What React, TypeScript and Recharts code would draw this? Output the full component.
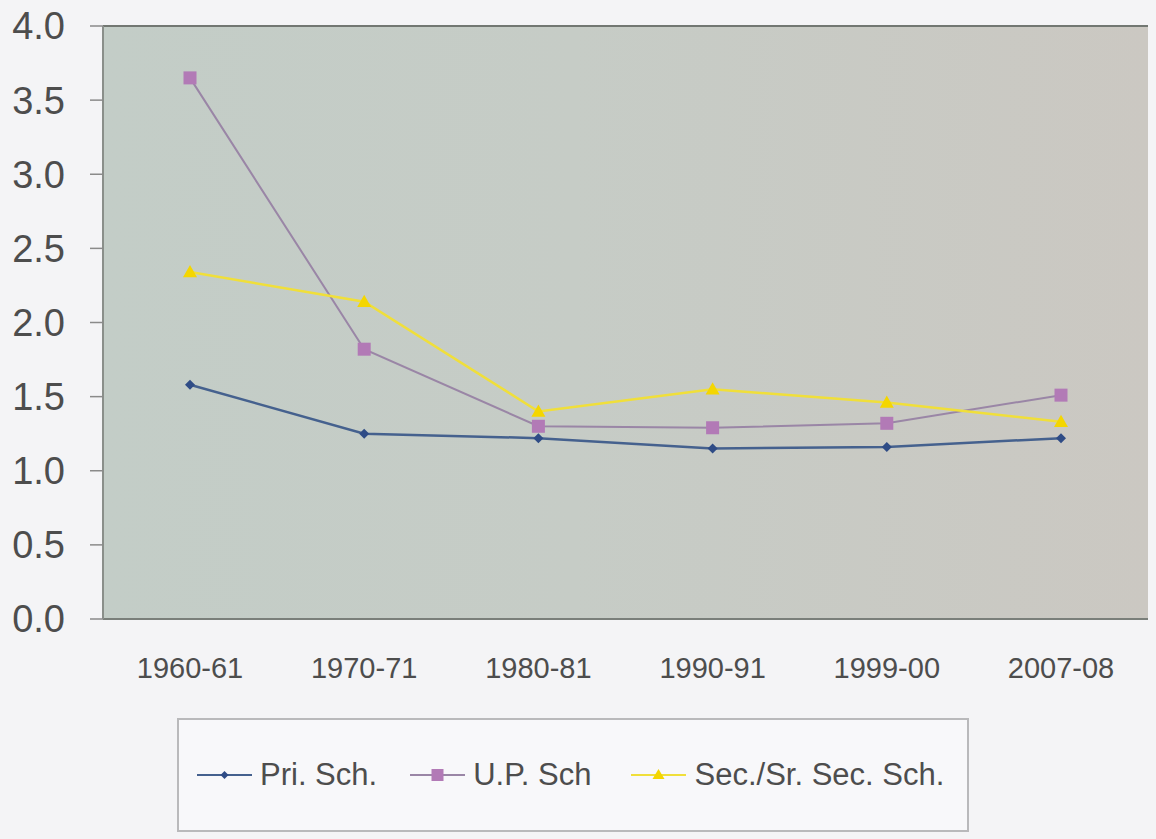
import React from 'react';
import { LineChart, Line, XAxis, YAxis, CartesianGrid, Legend } from 'recharts';

const categories = ['1960-61', '1970-71', '1980-81', '1990-91', '1999-00', '2007-08'];
const priSch = [1.58, 1.25, 1.22, 1.15, 1.16, 1.22];
const upSch = [3.65, 1.82, 1.3, 1.29, 1.32, 1.51];
const secSch = [2.34, 2.14, 1.4, 1.55, 1.46, 1.33];
const yTicks = [0, 0.5, 1.0, 1.5, 2.0, 2.5, 3.0, 3.5, 4.0];
const seriesNames = ['Pri. Sch.', 'U.P. Sch', 'Sec./Sr. Sec. Sch.'];

const data = categories.map((c, i) => ({ year: c, pri: priSch[i], up: upSch[i], sec: secSch[i] }));

const FONT = '"Liberation Sans", Arial, sans-serif';
const PRI_C = '#45618e';
const PRI_M = '#2f4c86';
const UP_C = '#9a86a6';
const UP_M = '#b27ab6';
const SEC_C = '#f0df3a';
const SEC_M = '#f4d600';

const Diamond = (p: any) => {
  const { cx, cy } = p;
  if (cx == null || cy == null) return <g />;
  const s = 5;
  return <path d={`M${cx},${cy - s}L${cx + s},${cy}L${cx},${cy + s}L${cx - s},${cy}Z`} fill={PRI_M} />;
};
const Square = (p: any) => {
  const { cx, cy } = p;
  if (cx == null || cy == null) return <g />;
  const s = 6.5;
  return <rect x={cx - s} y={cy - s} width={2 * s} height={2 * s} fill={UP_M} />;
};
const Triangle = (p: any) => {
  const { cx, cy } = p;
  if (cx == null || cy == null) return <g />;
  const s = 7;
  return <path d={`M${cx},${cy - s}L${cx + s},${cy + s * 0.75}L${cx - s},${cy + s * 0.75}Z`} fill={SEC_M} />;
};

const LegendIcon = ({ kind, color }: { kind: string; color: string }) => (
  <svg width={55} height={20} style={{ display: 'block' }}>
    <line x1={0} y1={10} x2={55} y2={10} stroke={color} strokeWidth={2} />
    {kind === 'pri' && <path d="M27.5,6L31.5,10L27.5,14L23.5,10Z" fill={PRI_M} />}
    {kind === 'up' && <rect x={21.5} y={4} width={12} height={12} fill={UP_M} />}
    {kind === 'sec' && <path d="M27.5,4L33.5,14L21.5,14Z" fill={SEC_M} />}
  </svg>
);

const renderLegend = () => {
  const items = [
    { kind: 'pri', color: PRI_C, name: seriesNames[0], mr: 33 },
    { kind: 'up', color: UP_C, name: seriesNames[1], mr: 40 },
    { kind: 'sec', color: SEC_C, name: seriesNames[2], mr: 0 },
  ];
  return (
    <div
      style={{
        display: 'flex',
        alignItems: 'center',
        height: '100%',
        paddingLeft: 18,
        boxSizing: 'border-box',
      }}
    >
      {items.map((it) => (
        <div key={it.name} style={{ display: 'flex', alignItems: 'center', marginRight: it.mr }}>
          <LegendIcon kind={it.kind} color={it.color} />
          <span style={{ marginLeft: 8, fontFamily: FONT, fontSize: 31, color: '#4d4d4d', whiteSpace: 'nowrap' }}>
            {it.name}
          </span>
        </div>
      ))}
    </div>
  );
};

export default function App() {
  return (
    <div style={{ position: 'absolute', left: 0, top: 0, width: 1156, height: 839, background: '#f4f4f6' }}>
      <LineChart
        width={1156}
        height={839}
        data={data}
        margin={{ top: 26, right: 8, bottom: 160, left: 0 }}
      >
        <defs>
          <linearGradient id="plotBg" x1="0" y1="0" x2="1" y2="0">
            <stop offset="0%" stopColor="#c3cdc7" />
            <stop offset="45%" stopColor="#c6ccc6" />
            <stop offset="100%" stopColor="#cbc8c2" />
          </linearGradient>
        </defs>
        <CartesianGrid
          vertical={false}
          stroke="#727772"
          strokeWidth={2}
          fill="url(#plotBg)"
          fillOpacity={1}
        />
        <XAxis
          dataKey="year"
          height={60}
          padding={{ left: 87, right: 87 }}
          tickLine={false}
          tickSize={6}
          tickMargin={32}
          axisLine={{ stroke: '#7a7f7a', strokeWidth: 2 }}
          tick={{ fontFamily: FONT, fontSize: 29, fill: '#4d4d4d' }}
          interval={0}
        />
        <YAxis
          yAxisId="left"
          width={103}
          domain={[0, 4]}
          ticks={yTicks}
          tickFormatter={(v: number) => v.toFixed(1)}
          tickSize={13}
          tickMargin={25}
          tickLine={{ stroke: '#8a8a8a', strokeWidth: 1.5 }}
          axisLine={{ stroke: '#8a8f8a', strokeWidth: 2 }}
          tick={{ fontFamily: FONT, fontSize: 38, fill: '#4d4d4d' }}
          interval={0}
        />
        <YAxis
          yAxisId="right"
          orientation="right"
          width={0}
          domain={[0, 4]}
          tick={false}
          tickLine={false}
          axisLine={{ stroke: '#a8aca8', strokeWidth: 2 }}
        />
        <Line
          yAxisId="left"
          type="linear"
          dataKey="pri"
          name={seriesNames[0]}
          stroke={PRI_C}
          strokeWidth={2.5}
          dot={Diamond}
          activeDot={false}
          isAnimationActive={false}
        />
        <Line
          yAxisId="left"
          type="linear"
          dataKey="up"
          name={seriesNames[1]}
          stroke={UP_C}
          strokeWidth={2}
          dot={Square}
          activeDot={false}
          isAnimationActive={false}
        />
        <Line
          yAxisId="left"
          type="linear"
          dataKey="sec"
          name={seriesNames[2]}
          stroke={SEC_C}
          strokeWidth={2.5}
          dot={Triangle}
          activeDot={false}
          isAnimationActive={false}
        />
        <Legend
          layout="horizontal"
          align="center"
          verticalAlign="middle"
          content={renderLegend}
          wrapperStyle={{
            left: 177,
            top: 718,
            width: 792,
            height: 114,
            border: '2px solid #b9b9bb',
            background: '#f8f8fa',
            boxSizing: 'border-box',
          }}
        />
      </LineChart>
    </div>
  );
}
